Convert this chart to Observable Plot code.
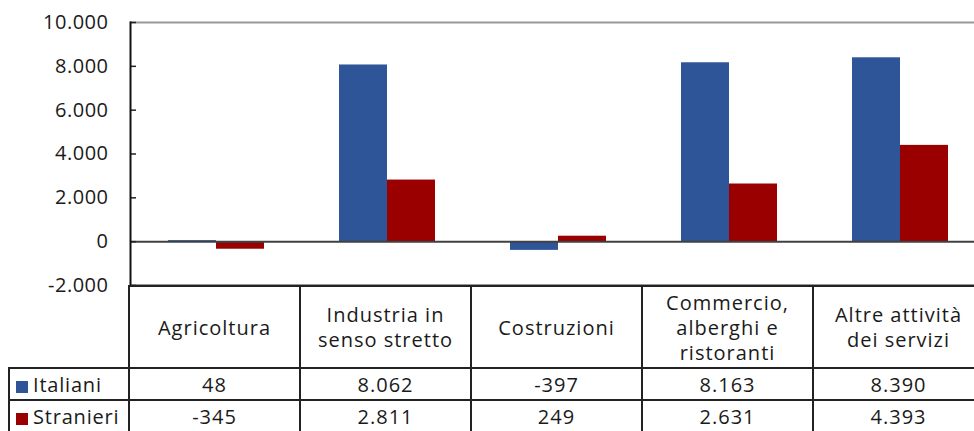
<!DOCTYPE html>
<html><head><meta charset="utf-8">
<script src="https://cdn.jsdelivr.net/npm/d3@7"></script>
<script src="https://cdn.jsdelivr.net/npm/@observablehq/plot@0.6"></script>
<style>
html,body{margin:0;padding:0;background:#fff;}
#wrap{position:relative;width:974px;height:431px;overflow:hidden;font-family:"Open Sans",sans-serif;color:#1a1a1a;}
#chart{position:absolute;left:0;top:0;}
#chart svg text{letter-spacing:0.5px;}
#tbl{position:absolute;border-collapse:collapse;table-layout:fixed;font-size:20px;letter-spacing:1px;font-family:"Open Sans",sans-serif;color:#1a1a1a;}
#tbl td{border:2px solid #222;text-align:center;padding:0;vertical-align:middle;}
#tbl td.hdr{white-space:pre-line;line-height:25px;height:80px;}
#tbl td.blank{border-top:none;border-left:none;}
#tbl td.lab{text-align:left;padding-left:6px;letter-spacing:0.8px;}
#tbl tr.data td{height:30px;}
.sw{display:inline-block;width:12px;height:12px;margin-right:5px;vertical-align:-1px;}
</style></head><body><div id="wrap"><div id="chart"></div></div>
<script>
const categories = ["Agricoltura", "Industria in\nsenso stretto", "Costruzioni", "Commercio,\nalberghi e\nristoranti", "Altre attività\ndei servizi"];
const series = ["Italiani", "Stranieri"];
const italiani = [48, 8062, -397, 8163, 8390];
const stranieri = [-345, 2811, 249, 2631, 4393];
const yTicks = [-2000, 0, 2000, 4000, 6000, 8000, 10000];
const colors = ["#2E5597", "#9A0000"];

const values = {Italiani: italiani, Stranieri: stranieri};
const rows = categories.flatMap((c, i) => series.map(s => ({cat: c, series: s, value: values[s][i]})));
const fmt = d3.formatLocale({decimal: ",", thousands: ".", grouping: [3], currency: ["", "€"], minus: "-"}).format(",");

const plot = Plot.plot({
  width: 974, height: 287,
  marginLeft: 129, marginRight: -12, marginTop: 22, marginBottom: 2,
  style: {fontFamily: "Open Sans", fontSize: "20px", color: "#1a1a1a", overflow: "visible", background: "transparent"},
  fx: {domain: categories, padding: 0, axis: null},
  x: {domain: series, paddingInner: 0, paddingOuter: 0.77, axis: null},
  y: {domain: [-2000, 10000]},
  color: {domain: series, range: colors},
  marks: [
    Plot.barY(rows, {fx: "cat", x: "series", y: "value", fill: "series"}),
    Plot.ruleY([10000], {stroke: "#999", strokeWidth: 2}),
    Plot.ruleY([0], {stroke: "#404040", strokeWidth: 2}),
    Plot.ruleY([-2000], {stroke: "#333", strokeWidth: 2}),
    Plot.axisY({ticks: yTicks, tickFormat: fmt, tickSize: 0, tickPadding: 22, fontSize: 20, label: null}),
    Plot.axisY({ticks: yTicks, tickFormat: () => "", tickSize: -6, stroke: "#222", strokeWidth: 1.5, label: null}),
    Plot.frame({anchor: "left", stroke: "#111", strokeWidth: 2, facetAnchor: "left"})
  ]
});
document.getElementById("chart").appendChild(plot);

// table below, columns aligned to the fx band scale
const fxs = plot.scale("fx");
const bw = fxs.bandwidth;
const left0 = fxs.range[0];
const tbl = document.createElement("table");
tbl.id = "tbl";
const cg = document.createElement("colgroup");
[left0 - 9, ...categories.map(() => bw)].forEach(w => { const col = document.createElement("col"); col.style.width = w + "px"; cg.appendChild(col); });
tbl.appendChild(cg);
const hr = tbl.insertRow();
const b = hr.insertCell(); b.className = "blank";
categories.forEach(c => { const td = hr.insertCell(); td.className = "hdr"; td.textContent = c; });
series.forEach((s, k) => {
  const tr = tbl.insertRow(); tr.className = "data";
  const lab = tr.insertCell(); lab.className = "lab";
  const sw = document.createElement("span"); sw.className = "sw"; sw.style.background = colors[k];
  lab.appendChild(sw); lab.appendChild(document.createTextNode(s));
  values[s].forEach(v => { const td = tr.insertCell(); td.textContent = fmt(v); });
});
tbl.style.left = "8px";
tbl.style.top = "285px";
tbl.style.width = (left0 - 9 + bw * categories.length) + "px";
document.getElementById("wrap").appendChild(tbl);
</script></body></html>
